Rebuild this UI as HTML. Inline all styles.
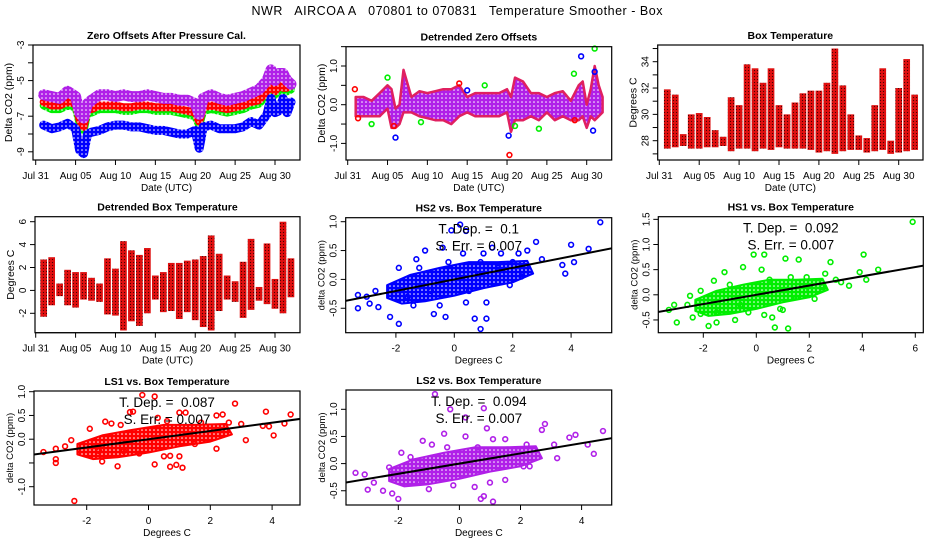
<!DOCTYPE html>
<html><head><meta charset="utf-8">
<style>
html,body{margin:0;padding:0;background:#fff;}
svg{display:block;font-family:"Liberation Sans",sans-serif;}
</style></head>
<body>
<svg id="chart" width="936" height="540" viewBox="0 0 936 540">
<defs>
<pattern id="pat-blue" width="4" height="4" patternUnits="userSpaceOnUse"><rect width="4" height="4" fill="#0000ff"/><circle cx="2" cy="2" r="0.8" fill="#fff"/></pattern>
<pattern id="pat-green" width="4" height="4" patternUnits="userSpaceOnUse"><rect width="4" height="4" fill="#00ee00"/><circle cx="2" cy="2" r="0.8" fill="#fff"/></pattern>
<pattern id="pat-red" width="4" height="4" patternUnits="userSpaceOnUse"><rect width="4" height="4" fill="#ff0000"/><circle cx="2" cy="2" r="0.8" fill="#fff"/></pattern>
<pattern id="pat-purple" width="4" height="4" patternUnits="userSpaceOnUse"><rect width="4" height="4" fill="#b020e8"/><circle cx="2" cy="2" r="0.8" fill="#fff"/></pattern>
<pattern id="pat-temp" width="3" height="3" patternUnits="userSpaceOnUse"><rect width="3" height="3" fill="#e01010"/><circle cx="1.5" cy="1.5" r="0.6" fill="#400"/></pattern>
</defs>
<rect x="0" y="0" width="936" height="540" fill="#fff"/>
<text x="457" y="15" text-anchor="middle" font-size="12.5" textLength="411" style="white-space:pre">NWR   AIRCOA A   070801 to 070831   Temperature Smoother - Box</text>
</svg>
<script>
// ---------- data ----------
const days = [1,2,3,4,5,5.5,6,6.5,7,8,9,10,11,12,13,14,15,16,17,18,19,20,20.5,21,22,23,24,25,26,27,28,29,29.5,30,30.5,31,31.5,32];
const zeroLS2 = [-5.8,-5.9,-6.0,-5.6,-5.9,-6.8,-7.1,-6.3,-6.1,-5.8,-5.8,-5.9,-5.8,-5.9,-5.9,-5.8,-5.9,-6.0,-6.0,-6.1,-6.1,-6.3,-6.9,-6.0,-5.8,-6.0,-6.1,-6.0,-5.9,-5.7,-5.5,-5.0,-4.4,-5.0,-4.6,-4.6,-5.0,-5.2];
const zeroLS1 = [-6.2,-6.4,-6.4,-6.2,-6.3,-7.2,-7.6,-6.6,-6.6,-6.4,-6.4,-6.4,-6.5,-6.5,-6.4,-6.4,-6.5,-6.5,-6.5,-6.6,-6.7,-6.8,-7.3,-6.5,-6.4,-6.5,-6.6,-6.5,-6.4,-6.2,-6.1,-5.6,-5.1,-5.6,-5.3,-5.4,-5.4,-5.3];
const zeroHS1 = [-6.4,-6.6,-6.6,-6.4,-6.5,-7.4,-7.8,-6.8,-6.8,-6.6,-6.6,-6.6,-6.7,-6.7,-6.6,-6.6,-6.7,-6.7,-6.7,-6.8,-6.9,-7.0,-7.5,-6.7,-6.6,-6.7,-6.8,-6.7,-6.6,-6.4,-6.3,-5.8,-5.3,-5.8,-5.5,-5.6,-5.6,-5.5];
const zeroHS2 = [-7.5,-7.7,-7.6,-7.4,-7.7,-8.9,-9.1,-8.0,-7.9,-7.8,-7.6,-7.5,-7.5,-7.6,-7.6,-7.7,-7.8,-7.8,-7.9,-8.0,-8.0,-7.8,-8.8,-7.6,-7.5,-7.7,-7.7,-7.7,-7.6,-7.3,-7.5,-6.9,-6.0,-6.8,-6.7,-6.0,-6.8,-6.2];
const detUpper = [0.2,0.2,0.1,0.3,0.5,0.4,-0.1,0.0,0.9,0.2,0.35,0.3,0.35,0.4,0.4,0.5,0.2,0.3,0.3,0.3,0.3,0.4,0.2,0.7,0.6,0.3,0.3,0.2,0.3,0.35,0.1,0.5,0.6,0.0,0.4,1.0,0.5,0.2];
const detLower = [-0.3,-0.3,-0.3,-0.3,-0.1,-0.6,-0.6,-0.5,-0.2,-0.2,-0.3,-0.35,-0.4,-0.4,-0.5,-0.3,-0.2,-0.3,-0.3,-0.3,-0.3,-0.2,-0.7,-0.4,-0.4,-0.3,-0.4,-0.2,-0.4,-0.3,-0.4,-0.4,-0.3,-0.6,-0.3,-0.4,-0.3,-0.2];
const detRedT = [0.9,1.3,5.8,20.3,14,28.5];
const detRedV = [0.4,-0.35,-0.55,-1.3,0.55,-0.4];
const detGreenT = [5,3,9.2,17.2,24,28.4,31,21];
const detGreenV = [0.7,-0.5,-0.45,0.5,-0.62,0.8,1.45,-0.55];
const detBlueT = [6,20.2,15,30.8,31,29.3];
const detBlueV = [-0.85,-0.8,0.37,-0.67,0.85,1.25];
const tempDays = [1,2,3,4,5,6,7,8,9,10,11,12,13,14,15,16,17,18,19,20,21,22,23,24,25,26,27,28,29,30,31,32];
const tempMax = [31.9,31.5,28.5,30.0,30.1,29.8,28.8,28.3,31.3,30.7,33.8,33.5,32.4,33.5,30.7,30.0,30.9,31.6,31.8,31.8,32.4,35.0,32.2,30.0,28.4,28.2,30.7,33.5,28.0,32.0,34.2,31.5];
const tempMin = [27.4,27.5,27.6,27.4,27.4,27.5,27.5,27.6,27.2,27.4,27.4,27.2,27.4,27.3,27.5,27.4,27.4,27.4,27.3,27.1,27.2,27.0,27.2,27.3,27.3,27.1,27.2,27.3,27.0,27.1,27.2,27.3];
const dTempMax = [2.7,2.9,0.6,1.8,1.6,1.6,1.1,0.6,2.8,1.9,4.3,3.5,3.1,3.7,1.3,1.6,2.4,2.4,2.6,2.7,3.0,4.8,3.2,1.3,0.8,2.5,4.5,0.3,4.1,1.0,6.0,2.8];
const dTempMin = [-2.3,-1.3,-0.5,-1.3,-1.5,-0.8,-0.9,-1.0,-2.1,-2.2,-3.5,-2.7,-3.1,-2.0,-0.8,-1.9,-1.8,-2.5,-1.9,-2.6,-3.2,-3.5,-1.8,-0.8,-1.0,-2.4,-1.7,-0.9,-1.2,-1.6,-2.0,-0.6];

const hs2X = [5.0,4.6,4.0,-3.3,-3.3,-2.2,-1.9,0.9,0.7,1.1,-0.3,-0.7,1.1,0.4,-0.1,0.4,0.2,-0.4,2.8,1.3,1.0,-1.0,-1.3,-1.9,-2.6,-2.9,3.8,3.7,4.1,3.0,2.2,2.5,-3.0,-2.7,-1.4,-0.5,0.3,1.6,-1.2,0.9,1.9,2.3,-0.8,0.5,-1.6,1.5,-0.2,0.7,2.0,-2.2];
const hs2Y = [0.99,0.53,0.6,-0.5,-0.27,-0.65,-0.77,-0.86,-0.68,-0.68,-0.65,-0.6,-0.4,-0.4,0.85,0.84,0.95,0.55,0.65,0.55,0.45,0.5,0.35,0.2,-0.48,-0.42,0.1,0.25,0.3,0.35,0.45,0.5,-0.3,-0.2,-0.45,-0.45,0.45,0.45,0.2,0.3,-0.1,0.05,-0.2,-0.2,-0.3,0.2,0.3,0.1,0.3,-0.25];
const hs1X = [5.9,4.05,4.6,3.9,4.15,3.5,2.8,3.0,-3.0,-3.3,-3.1,-1.8,-1.5,0.7,1.2,0.6,0.3,-0.8,-0.1,0.3,1.6,1.1,-0.5,0.2,-1.2,-1.6,-2.1,-2.5,-2.4,-2.1,2.6,2.2,1.0,0.9,-0.3,1.9,1.3,-1.0,0.5,2.0,-0.6,1.5,-1.5,-2.6,3.2,2.5];
const hs1Y = [1.45,0.8,0.5,0.45,0.3,0.18,0.65,0.3,-0.55,-0.3,-0.2,-0.62,-0.55,-0.65,-0.67,-0.45,-0.4,-0.5,0.8,0.8,0.7,0.72,0.55,0.5,0.45,0.28,0.08,-0.02,-0.45,-0.38,0.42,-0.08,-0.3,-0.28,-0.35,0.35,0.35,0.2,0.3,0.1,-0.2,-0.05,-0.35,-0.2,0.25,0.15];
const ls1X = [-2.4,-1.0,0.2,0.7,1.1,0.9,-3.0,-3.0,-1.5,-0.2,0.2,2.8,3.8,4.6,-0.5,-0.6,1.0,1.2,2.2,2.4,4.05,3.15,2.2,-2.5,-3.4,-3.0,-2.7,4.4,3.7,3.9,-1.9,-1.4,-1.2,0.3,0.6,-0.9,0.7,1.0,0.5,-1.6,1.7,2.6,3.0,-0.3,1.5,-0.8];
const ls1Y = [-1.3,-0.57,-0.53,-0.58,-0.6,-0.54,-0.5,-0.42,-0.47,0.93,0.9,0.75,0.58,0.52,0.58,0.57,0.56,0.56,0.5,0.52,0.08,-0.02,-0.2,-0.02,-0.27,-0.2,-0.15,0.33,0.28,0.27,0.22,0.37,0.33,0.45,0.38,0.3,-0.35,-0.36,-0.36,-0.25,0.35,0.35,0.32,-0.3,-0.1,-0.25];
const ls2X = [-0.8,-0.3,0.8,0.2,0.9,-0.5,2.8,2.7,4.7,3.8,3.6,4.2,4.4,3.2,-2.0,-2.2,-2.5,-3.0,-3.4,-3.1,-2.8,0.7,0.8,1.1,0.5,-1.0,-0.2,1.0,1.5,-1.2,-0.9,-1.9,-2.3,0.2,1.1,1.5,2.2,3.1,2.1,2.3,-1.6,-0.4,0.6,1.8,0.3,-1.3];
const ls2Y = [1.28,1.0,1.02,0.85,0.65,0.55,0.73,0.62,0.6,0.53,0.48,0.35,0.18,0.1,-0.65,-0.55,-0.5,-0.48,-0.17,-0.2,-0.35,-0.65,-0.6,-0.7,-0.43,-0.47,-0.4,-0.35,-0.3,0.42,0.35,0.2,-0.07,0.5,0.45,0.45,0.35,0.35,-0.05,-0.05,0.12,0.3,0.3,0.25,-0.1,-0.35];
const coreX = [-2.3,-1.5,-0.5,0.5,1.5,2.5,2.7,2.0,1.0,0.0,-1.0,-1.8,-2.3];
const coreY = [-0.1,0.08,0.2,0.3,0.3,0.32,0.1,-0.05,-0.15,-0.28,-0.38,-0.42,-0.32];
const slopes = [0.1,0.092,0.087,0.094];
const slopeLabels = ['0.1','0.092','0.087','0.094'];
const errLabels = ['0.007','0.007','0.007','0.007'];

const timeTicks = [0,5,10,15,20,25,30];
const timeTickLabels = ['Jul 31','Aug 05','Aug 10','Aug 15','Aug 20','Aug 25','Aug 30'];

// ---------- helpers ----------
const NS='http://www.w3.org/2000/svg';
const svg=document.getElementById('chart');
function mk(tag,attrs,parent){const e=document.createElementNS(NS,tag);for(const k in attrs)e.setAttribute(k,attrs[k]);(parent||svg).appendChild(e);return e;}
function lin(v0,p0,v1,p1){const k=(p1-p0)/(v1-v0);return v=>p0+(v-v0)*k;}
let clipN=0;

function frame(p){
  const g=mk('g',{});
  
  
  p.g=g;
  const cid='clip'+(clipN++);
  const cp=mk('clipPath',{id:cid},g);
  mk('rect',{x:p.box[0],y:p.box[1],width:p.box[2]-p.box[0],height:p.box[3]-p.box[1]},cp);
  p.clip='url(#'+cid+')';
  const t=mk('text',{x:(p.box[0]+p.box[2])/2,y:p.box[1]-6,'text-anchor':'middle','font-size':10.5,'font-weight':'bold'},g);
  t.textContent=p.title;
  
  
  p.xt.forEach((v,i)=>{
    const x=p.sx(v);
    const l=mk('line',{x1:x,x2:x,y1:p.box[3],y2:p.box[3]+5,stroke:'#000','stroke-width':1},g);
    
    
    const tx=mk('text',{x:x,y:p.box[3]+19,'text-anchor':'middle','font-size':10},g);
    tx.textContent=p.xl[i];
    
    
  });
  const xa=mk('line',{x1:p.sx(p.xt[0]),x2:p.sx(p.xt[p.xt.length-1]),y1:p.box[3],y2:p.box[3],stroke:'#000'},g);
  
  
  const xtt=mk('text',{x:(p.box[0]+p.box[2])/2,y:p.box[3]+31,'text-anchor':'middle','font-size':10},g);
  xtt.textContent=p.xtitle;
  
  
  p.yt.forEach((v,i)=>{
    const y=p.sy(v);
    const l=mk('line',{x1:p.box[0]-5,x2:p.box[0],y1:y,y2:y,stroke:'#000'},g);
    
    
    if(p.yl[i]!==''){
      const lx=p.box[0]-9;
      const tx=mk('text',{x:lx,y:y,'text-anchor':'middle','font-size':10,transform:'rotate(-90 '+lx+' '+y+')'},g);
      tx.textContent=p.yl[i];
      
      
    }
  });
  const cy=(p.box[1]+p.box[3])/2, ax=p.box[0]-21;
  const yt=mk('text',{x:ax,y:cy,'text-anchor':'middle','font-size':p.yfs||10.5,transform:'rotate(-90 '+ax+' '+cy+')'},g);
  yt.textContent=p.ytitle;
  
  
}
function box(p){
  const r=mk('rect',{x:p.box[0],y:p.box[1],width:p.box[2]-p.box[0],height:p.box[3]-p.box[1],fill:'none',stroke:'#000','stroke-width':1.2},p.g);
  
  
}
function pts(xs,ys,p){return xs.map((v,i)=>p.sx(v).toFixed(1)+','+p.sy(ys[i]).toFixed(1)).join(' ');}
function dots(xs,ys,p,color,name){
  xs.forEach((v,i)=>{
    const c=mk('circle',{cx:p.sx(v),cy:p.sy(ys[i]),r:2.4,fill:'none',stroke:color,'stroke-width':1.6},p.g);
    
    
  });
}

// ---------- panel 1 ----------
const P1={name:'zero-offsets-panel',box:[33,45,300,160],sx:lin(0,35.7,30,275),sy:lin(-3,45,-9,151.8),
  title:'Zero Offsets After Pressure Cal.',xtitle:'Date (UTC)',ytitle:'Delta CO2 (ppm)',
  xt:timeTicks,xl:timeTickLabels,yt:[-3,-4,-5,-6,-7,-8,-9],yl:['-3','','-5','','-7','','-9']};
frame(P1);
[[zeroHS1,'url(#pat-green)',8,'series-hs1'],[zeroLS1,'url(#pat-red)',8,'series-ls1'],[zeroLS2,'url(#pat-purple)',11,'series-ls2'],[zeroHS2,'url(#pat-blue)',9,'series-hs2']].forEach(s=>{
  const pl=mk('polyline',{points:pts(days,s[0],P1),fill:'none',stroke:s[1],'stroke-width':s[2],'stroke-linejoin':'round','stroke-linecap':'round'},P1.g);
  
  
});
box(P1);

// ---------- panel 2 ----------
const P2={name:'detrended-zero-offsets-panel',box:[346,46.7,611.7,160],sx:lin(0,347.7,30,586.7),sy:lin(0,104.7,1,66),
  title:'Detrended Zero Offsets',xtitle:'Date (UTC)',ytitle:'Delta CO2 (ppm)',
  xt:timeTicks,xl:timeTickLabels,yt:[-1,-0.5,0,0.5,1,1.5],yl:['-1.0','','0.0','','1.0','']};
frame(P2);
{
  const up=days.map((d,i)=>P2.sx(d).toFixed(1)+','+P2.sy(detUpper[i]).toFixed(1));
  const lo=days.map((d,i)=>P2.sx(d).toFixed(1)+','+P2.sy(detLower[i]).toFixed(1)).reverse();
  const pg=mk('polygon',{points:up.concat(lo).join(' '),fill:'url(#pat-purple)',stroke:'#e02060','stroke-width':2.5,'stroke-linejoin':'round'},P2.g);
  
  
}
dots(detRedT,detRedV,P2,'#ff0000','detrended-ls1-point');
dots(detGreenT,detGreenV,P2,'#00ee00','detrended-hs1-point');
dots(detBlueT,detBlueV,P2,'#0000ff','detrended-hs2-point');
box(P2);

// ---------- temperature panels: per-day columns ----------
function columns(p,maxA,minA,name){
  tempDays.forEach((d,i)=>{
    const x0=p.sx(d-0.42), x1=p.sx(d+0.42);
    const yT=p.sy(maxA[i]), yB=p.sy(minA[i]);
    const r=mk('rect',{x:x0,y:yT,width:x1-x0,height:yB-yT,fill:'url(#pat-temp)'},p.g);
    
    
  });
}
const P3={name:'box-temperature-panel',box:[657.7,45,923,160],sx:lin(0,659.3,30,898.7),sy:lin(28,140.7,34,61.7),
  title:'Box Temperature',xtitle:'Date (UTC)',ytitle:'Degrees C',
  xt:timeTicks,xl:timeTickLabels,yt:[27,28,29,30,31,32,33,34,35],yl:['','28','','30','','32','','34','']};
frame(P3);
columns(P3,tempMax,tempMin,'box-temperature-day');
box(P3);

const P4={name:'detrended-box-temperature-panel',box:[35,216.7,300,332.7],sx:lin(0,35.7,30,275),sy:lin(0,290.4,6,221.7),
  title:'Detrended Box Temperature',xtitle:'Date (UTC)',ytitle:'Degrees C',
  xt:timeTicks,xl:timeTickLabels,yt:[-2,0,2,4,6],yl:['-2','0','2','4','6']};
frame(P4);
columns(P4,dTempMax,dTempMin,'detrended-temperature-day');
box(P4);

// ---------- scatter panels ----------
const scat=[
 {name:'hs2-scatter-panel',title:'HS2 vs. Box Temperature',box:[345.7,217.7,611.7,332.7],sx:lin(0,454.3,1,483.5),sy:lin(0,279.4,1,221.7),
  xt:[-2,0,2,4],xl:['-2','0','2','4'],yt:[-0.5,0,0.5,1],yl:['-0.5','0.0','0.5','1.0'],xs:hs2X,ys:hs2Y,color:'#0000ff',pat:'url(#pat-blue)',k:0},
 {name:'hs1-scatter-panel',title:'HS1 vs. Box Temperature',box:[658.3,216.7,923.3,332.7],sx:lin(0,756.3,1,782.8),sy:lin(0,294.8,1,244.5),
  xt:[-2,0,2,4,6],xl:['-2','0','2','4','6'],yt:[-0.5,0,0.5,1,1.5],yl:['-0.5','0.0','0.5','1.0','1.5'],xs:hs1X,ys:hs1Y,color:'#00ee00',pat:'url(#pat-green)',k:1},
 {name:'ls1-scatter-panel',title:'LS1 vs. Box Temperature',box:[34,391,300,505],sx:lin(0,148.5,1,179.4),sy:lin(0,439.2,1,391.7),
  xt:[-2,0,2,4],xl:['-2','0','2','4'],yt:[-1,-0.5,0,0.5,1],yl:['-1.0','','0.0','0.5','1.0'],xs:ls1X,ys:ls1Y,color:'#ff0000',pat:'url(#pat-red)',k:2},
 {name:'ls2-scatter-panel',title:'LS2 vs. Box Temperature',box:[346,390,611.7,505],sx:lin(0,459.4,1,489.95),sy:lin(0,463.6,1,409.3),
  xt:[-2,0,2,4],xl:['-2','0','2','4'],yt:[-0.5,0,0.5,1],yl:['-0.5','0.0','0.5','1.0'],xs:ls2X,ys:ls2Y,color:'#b020e8',pat:'url(#pat-purple)',k:3}
];
scat.forEach(p=>{
  p.xtitle='Degrees C';p.ytitle='delta CO2 (ppm)';p.yfs=9.5;
  frame(p);
  const core=mk('polygon',{points:pts(coreX,coreY,p),fill:p.pat,stroke:p.color,'stroke-width':2,'stroke-linejoin':'round'},p.g);
  
  
  dots(p.xs,p.ys,p,p.color,'scatter-point');
  const x0=-10,x1=10;
  const ln=mk('line',{x1:p.sx(x0),y1:p.sy(slopes[p.k]*x0),x2:p.sx(x1),y2:p.sy(slopes[p.k]*x1),stroke:'#000','stroke-width':2,'clip-path':p.clip},p.g);
  
  
  const cx=(p.box[0]+p.box[2])/2;
  const t1=mk('text',{x:cx,y:p.box[1]+16,'text-anchor':'middle','font-size':13.5,style:'white-space:pre'},p.g);
  t1.textContent='T. Dep. =  '+slopeLabels[p.k];
  
  
  const t2=mk('text',{x:cx,y:p.box[1]+33,'text-anchor':'middle','font-size':13.5,style:'white-space:pre'},p.g);
  t2.textContent='S. Err. = '+errLabels[p.k];
  
  
  box(p);
});
</script>
</body></html>
